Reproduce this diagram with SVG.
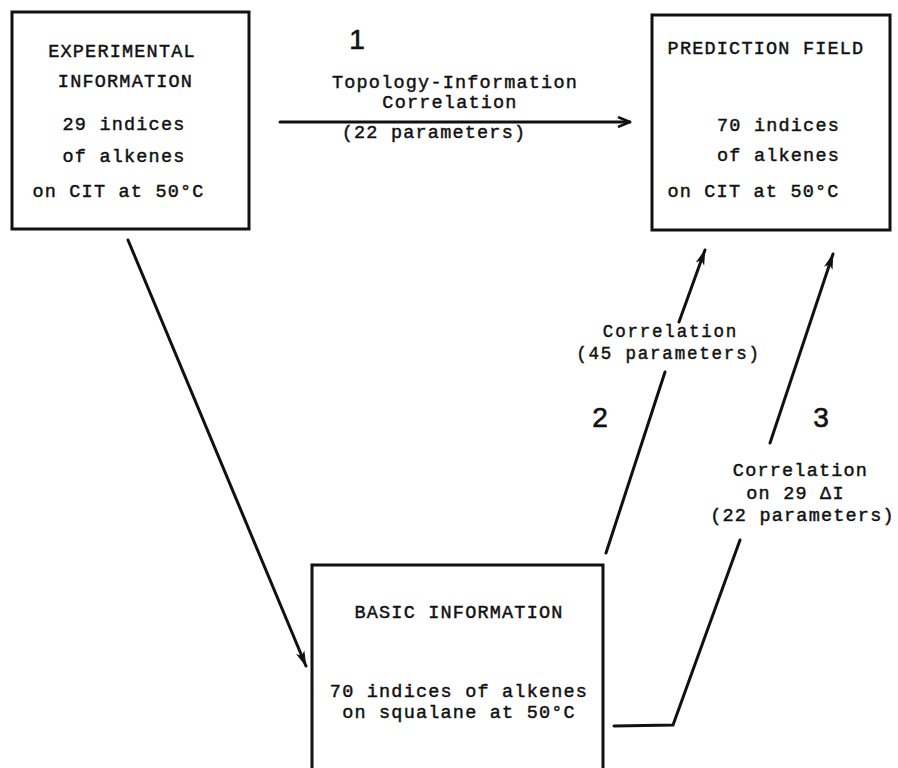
<svg xmlns="http://www.w3.org/2000/svg" width="898" height="768" viewBox="0 0 898 768">
<style>
.box{fill:none;stroke:#111;stroke-width:3}
.t{font-family:"Liberation Mono","Courier New",monospace;font-size:18.5px;letter-spacing:1.2px;fill:#111;stroke:#111;stroke-width:0.45;text-anchor:middle}
.s{font-size:17.5px;letter-spacing:1.8px}
.num{font-family:"Liberation Sans",Arial,sans-serif;font-size:28px;fill:#111;stroke:#111;stroke-width:0.6;text-anchor:middle}
.c{fill:none;stroke:#111;stroke-width:3;stroke-linecap:round}
</style>
<defs>
<marker id="ah" viewBox="0 0 16 10" refX="15" refY="5" markerWidth="16" markerHeight="10" markerUnits="userSpaceOnUse" orient="auto">
<path d="M0,0.5 L16,5 L0,9.5 L4,5 z" fill="#111"/>
</marker>
<marker id="ao" viewBox="0 0 14 12" refX="13" refY="6" markerWidth="14" markerHeight="12" markerUnits="userSpaceOnUse" orient="auto">
<path d="M1,1 L13,6 L1,11" fill="none" stroke="#111" stroke-width="2.5"/>
</marker>
</defs>
<rect width="898" height="768" fill="#fff"/>
<g id="experimental">
<rect class="box" x="12" y="12" width="237" height="217"/>
<text class="t" x="122" y="57">EXPERIMENTAL</text>
<text class="t" x="125.5" y="87">INFORMATION</text>
<text class="t" x="124" y="130">29 indices</text>
<text class="t" x="124" y="162">of alkenes</text>
<text class="t" x="118.5" y="197">on CIT at 50°C</text>
</g>
<g id="prediction">
<rect class="box" x="652" y="15" width="238" height="215"/>
<text class="t" x="766" y="54">PREDICTION FIELD</text>
<text class="t" x="778.5" y="131">70 indices</text>
<text class="t" x="778.5" y="161">of alkenes</text>
<text class="t" x="753.5" y="197">on CIT at 50°C</text>
</g>
<g id="basic">
<path class="box" d="M312,768 L312,565 L603,565 L603,768"/>
<text class="t" x="459" y="618">BASIC INFORMATION</text>
<text class="t" x="459" y="697">70 indices of alkenes</text>
<text class="t" x="459" y="718">on squalane at 50°C</text>
</g>
<g id="connectors">
<line class="c" x1="280" y1="122" x2="630" y2="122" marker-end="url(#ao)"/>
<line class="c" x1="128" y1="240" x2="306" y2="666" marker-end="url(#ah)"/>
<line class="c" x1="606" y1="553" x2="665" y2="372"/>
<line class="c" x1="679" y1="322" x2="705" y2="250" marker-end="url(#ah)"/>
<line class="c" x1="770" y1="443" x2="833" y2="254" marker-end="url(#ah)"/>
<polyline class="c" points="614,726 673,725 740,540"/>
</g>
<g id="labels">
<text class="num" x="357" y="49">1</text>
<text class="t" x="455" y="88">Topology-Information</text>
<text class="t" x="450" y="108">Correlation</text>
<text class="t" x="434" y="138">(22 parameters)</text>
<text class="num" x="600" y="427">2</text>
<text class="t s" x="670.5" y="337">Correlation</text>
<text class="t s" x="668.5" y="359">(45 parameters)</text>
<text class="num" x="821" y="427">3</text>
<text class="t" x="800.5" y="476">Correlation</text>
<text class="t" x="795.5" y="499">on 29 ΔI</text>
<text class="t" x="802.5" y="521">(22 parameters)</text>
</g>
</svg>
